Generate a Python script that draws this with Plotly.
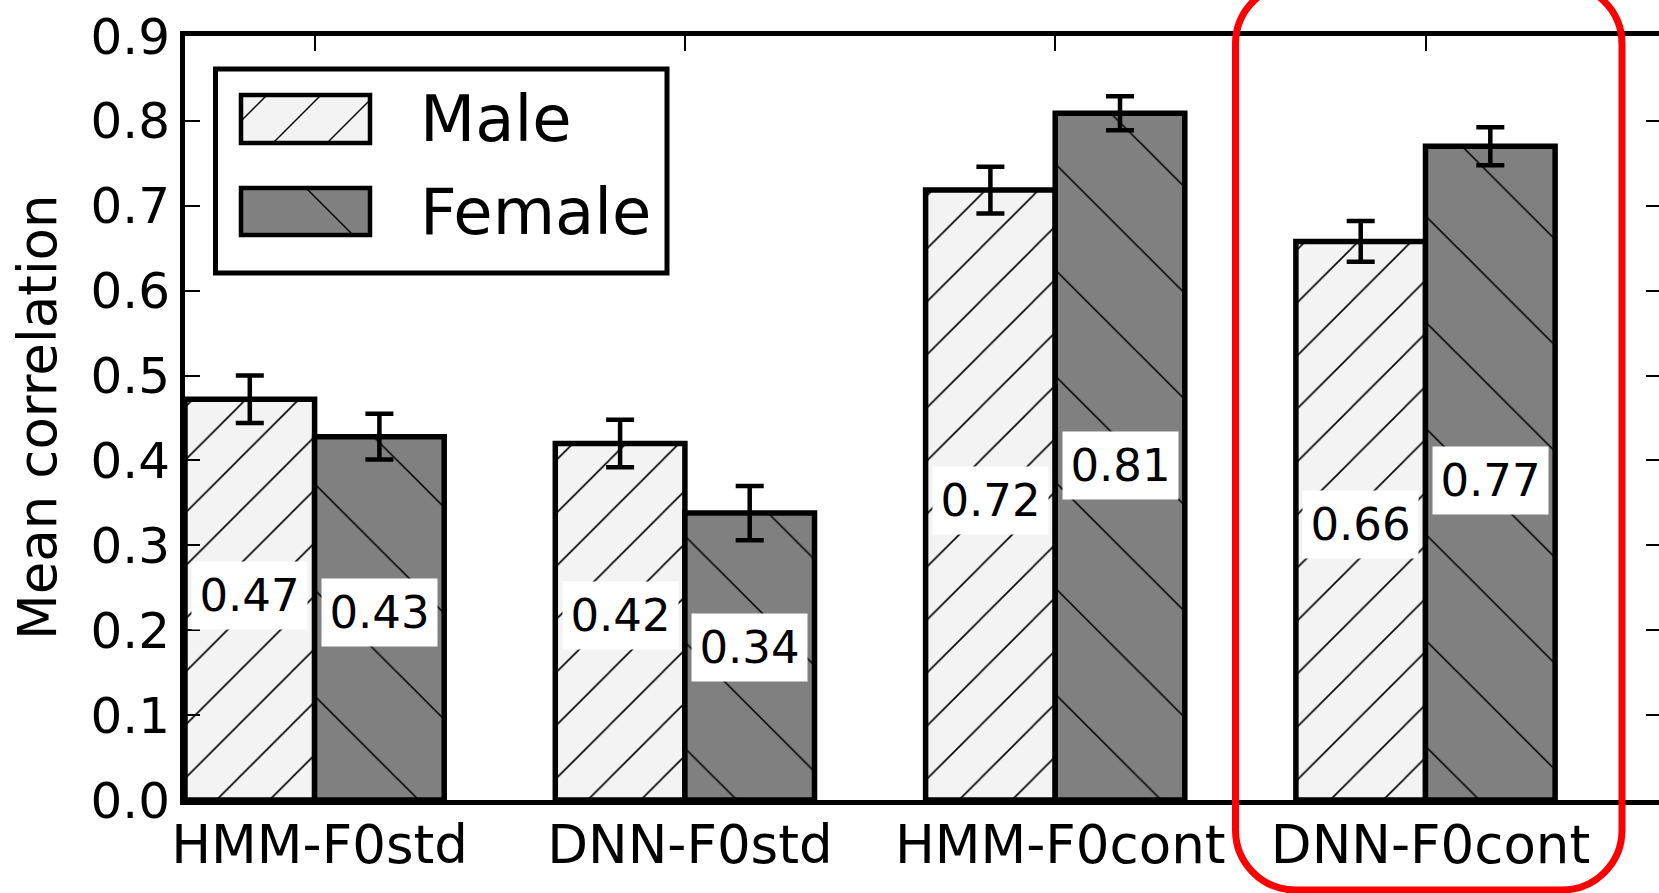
import plotly.graph_objects as go

# ---------------- data ----------------
categories = ["HMM-F0std", "DNN-F0std", "HMM-F0cont", "DNN-F0cont"]
series_names = ["Male", "Female"]
male = [0.472, 0.420, 0.7185, 0.658]
female = [0.428, 0.338, 0.809, 0.770]
male_err = [0.028, 0.028, 0.0275, 0.024]
female_err = [0.027, 0.032, 0.020, 0.0224]
y_ticks = [0.0, 0.1, 0.2, 0.3, 0.4, 0.5, 0.6, 0.7, 0.8, 0.9]
y_title = "Mean correlation"

# ---------------- layout helpers ----------------
FONT = "DejaVu Sans"
W, H = 1659, 893
L, R, T, B = 185, 1659, 36, 800


def px(x):
    return (x - L) / (R - L)


def py(y):
    return (B - y) / (B - T)


BAR_W = 0.35
idx = list(range(len(categories)))
x_male = [i + BAR_W / 2 for i in idx]
x_female = [i + 1.5 * BAR_W for i in idx]
tick_x = [i + BAR_W for i in idx]

MALE_COLOR = "#f3f3f3"
FEMALE_COLOR = "#808080"

fig = go.Figure()

fig.add_trace(go.Bar(
    x=x_male, y=male, width=BAR_W, name=series_names[0], showlegend=False,
    marker=dict(color=MALE_COLOR, line=dict(color="black", width=5.5),
                pattern=dict(shape="/", size=37.5, solidity=0.042, fgcolor="black",
                             fgopacity=1, fillmode="overlay")),
    error_y=dict(type="data", array=male_err, color="black", thickness=4.5, width=14),
    hoverinfo="skip",
))
fig.add_trace(go.Bar(
    x=x_female, y=female, width=BAR_W, name=series_names[1], showlegend=False,
    marker=dict(color=FEMALE_COLOR, line=dict(color="black", width=5.5),
                pattern=dict(shape="\\", size=75, solidity=0.021, fgcolor="black",
                             fgopacity=1, fillmode="overlay")),
    error_y=dict(type="data", array=female_err, color="black", thickness=4.5, width=14),
    hoverinfo="skip",
))
# helper trace for the right-hand tick axis
fig.add_trace(go.Scatter(x=[None], y=[None], yaxis="y2", showlegend=False, hoverinfo="skip"))

annotations = []
for xs, vals in ((x_male, male), (x_female, female)):
    for x, v in zip(xs, vals):
        annotations.append(dict(
            x=x, y=0.453 * v + 0.027, xref="x", yref="y", text=f"{v:.2f}", showarrow=False,
            bgcolor="white", font=dict(size=45, color="black", family=FONT),
            width=105, height=57, borderpad=5, xanchor="center", yanchor="middle"))

# y-axis title
annotations.append(dict(
    x=px(38), y=py(417), xref="paper", yref="paper", text=y_title, textangle=-90,
    showarrow=False, font=dict(size=53, color="black", family=FONT),
    xanchor="center", yanchor="middle"))

# legend texts
for name, ymid in ((series_names[0], 119), (series_names[1], 212)):
    annotations.append(dict(
        x=px(418), y=py(ymid), xref="paper", yref="paper", text=name, showarrow=False,
        font=dict(size=64, color="black", family=FONT), xanchor="left", yanchor="middle"))

shapes = []

# legend frame
shapes.append(dict(type="rect", xref="paper", yref="paper",
                   x0=px(215.5), x1=px(667), y0=py(273), y1=py(69),
                   line=dict(color="black", width=5), fillcolor="white", layer="above"))


def hatch_segments(x0, y0, x1, y1, starts, direction):
    """45-degree hatch lines inside pixel rect; direction '/' or '\\'."""
    segs = []
    h = y1 - y0
    for c in starts:
        t0 = max(0, x0 - c)
        t1 = min(h, x1 - c)
        if t1 <= t0:
            continue
        if direction == "/":
            segs.append((c + t0, y1 - t0, c + t1, y1 - t1))
        else:
            segs.append((c + t0, y0 + t0, c + t1, y0 + t1))
    return segs


for (sx0, sy0, sx1, sy1), fill, starts, d in (
    ((241, 95, 370, 143), MALE_COLOR, [219, 273, 327], "/"),
    ((241, 188, 370, 235), FEMALE_COLOR, [306], "\\"),
):
    shapes.append(dict(type="rect", xref="paper", yref="paper",
                       x0=px(sx0), x1=px(sx1), y0=py(sy1), y1=py(sy0),
                       line=dict(width=0), fillcolor=fill, layer="above"))
    for a, b, c, e in hatch_segments(sx0, sy0, sx1, sy1, starts, d):
        shapes.append(dict(type="line", xref="paper", yref="paper",
                           x0=px(a), y0=py(b), x1=px(c), y1=py(e),
                           line=dict(color="black", width=1.5), layer="above"))
    shapes.append(dict(type="rect", xref="paper", yref="paper",
                       x0=px(sx0), x1=px(sx1), y0=py(sy1), y1=py(sy0),
                       line=dict(color="black", width=4.5), fillcolor="rgba(0,0,0,0)",
                       layer="above"))


# red rounded highlight box
def rounded_path(x0, y0, x1, y1, r):
    k = 0.5523 * r

    def p(x, y):
        return f"{px(x):.6f},{py(y):.6f}"

    return (f"M{p(x0 + r, y0)} L{p(x1 - r, y0)} "
            f"C{p(x1 - r + k, y0)} {p(x1, y0 + r - k)} {p(x1, y0 + r)} "
            f"L{p(x1, y1 - r)} "
            f"C{p(x1, y1 - r + k)} {p(x1 - r + k, y1)} {p(x1 - r, y1)} "
            f"L{p(x0 + r, y1)} "
            f"C{p(x0 + r - k, y1)} {p(x0, y1 - r + k)} {p(x0, y1 - r)} "
            f"L{p(x0, y0 + r)} "
            f"C{p(x0, y0 + r - k)} {p(x0 + r - k, y0)} {p(x0 + r, y0)} Z")


shapes.append(dict(type="path", xref="paper", yref="paper",
                   path=rounded_path(1235.5, -16, 1622, 890, 60),
                   line=dict(color="#ff0000", width=7), fillcolor="rgba(0,0,0,0)",
                   layer="above"))

x_max = (R - L) / 370.3

fig.update_layout(
    width=W, height=H, autosize=False,
    margin=dict(l=L, r=W - R, t=T, b=H - B, pad=0),
    paper_bgcolor="white", plot_bgcolor="white",
    barmode="overlay",
    font=dict(family=FONT, color="black"),
    xaxis=dict(range=[0, x_max], tickvals=tick_x, ticktext=categories,
               showline=True, linecolor="black", linewidth=5, mirror="ticks",
               ticks="inside", ticklen=15, tickwidth=2, tickcolor="black",
               ticklabelstandoff=-6, ticklabelshift=5,
               showgrid=False, zeroline=False, tickfont=dict(size=53, family=FONT)),
    yaxis=dict(range=[0, 0.9], tickvals=y_ticks, tickformat=".1f",
               showline=True, linecolor="black", linewidth=5, mirror=False,
               ticks="inside", ticklen=15, tickwidth=2, tickcolor="black",
               showgrid=False, zeroline=False, tickfont=dict(size=50, family=FONT)),
    yaxis2=dict(range=[0, 0.9], tickvals=y_ticks, overlaying="y", side="right",
                anchor="x", showticklabels=False, showline=False, showgrid=False,
                zeroline=False, ticks="inside", ticklen=13, tickwidth=2,
                tickcolor="black"),
    shapes=shapes,
    annotations=annotations,
    showlegend=False,
)

fig.write_html("out.html", config={"displayModeBar": False},
               post_script="document.body.style.margin='0';")
